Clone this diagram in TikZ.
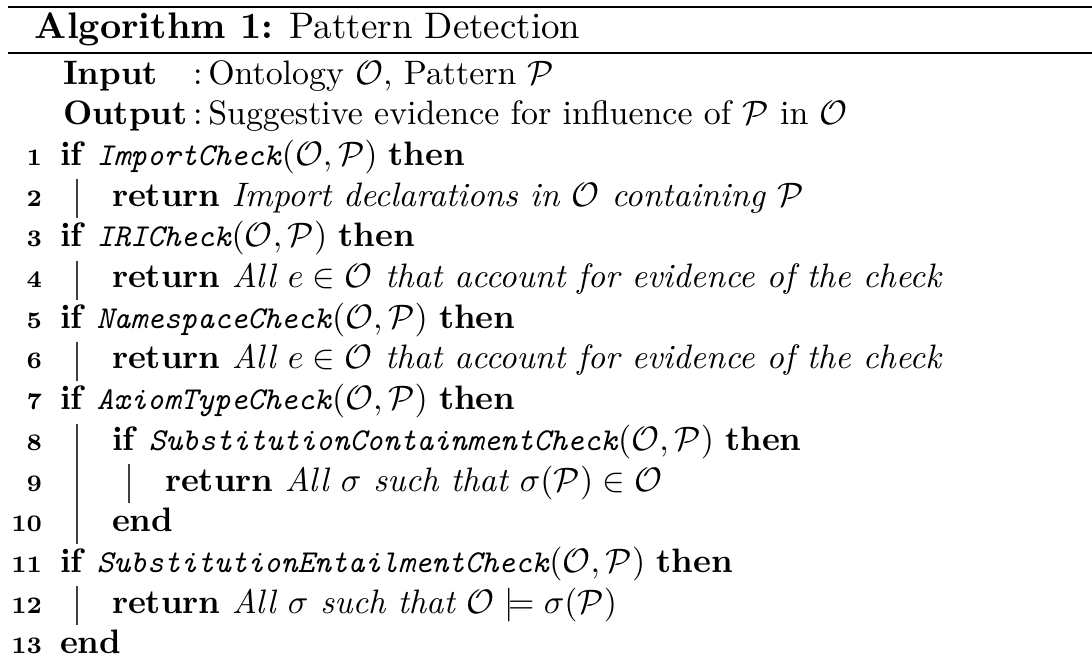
\documentclass[tikz,border=0pt]{standalone}
\usepackage{amsmath,amssymb}
\begin{document}
\begin{tikzpicture}[x=0.295pt,y=-0.295pt,
  txt/.style={anchor=base west,inner sep=0pt,outer sep=0pt,font=\normalsize},
  captxt/.style={anchor=base west,inner sep=0pt,outer sep=0pt,font=\fontsize{10.9pt}{13pt}\selectfont},
  lno/.style={anchor=base east,inner sep=0pt,outer sep=0pt,font=\scriptsize\bfseries},
  toprule/.style={line width=0.8pt},
  midrule/.style={line width=0.6pt},
  blockbar/.style={line width=0.4pt,black!75}]
\useasboundingbox (0,0) rectangle (1092,669);
\newcommand{\fn}[1]{{\fontsize{9.4pt}{12pt}\selectfont\textit{\texttt{#1}}}}
\newcommand{\Ocal}{\mathcal{O}}
\newcommand{\Pcal}{\mathcal{P}}

% caption rules
\coordinate (r1l) at (8,7);   \coordinate (r1r) at (1092,7);
\coordinate (r2l) at (8,53);  \coordinate (r2r) at (1092,53);
\draw[toprule] (r1l) -- (r1r);
\draw[midrule] (r2l) -- (r2r);

% caption
\node[captxt] (title) at (35,38) {\textbf{Algorithm 1:} Pattern Detection};

% input / output
\node[txt] (outkw) at (63,124.7) {\textbf{Output}};
\node[txt] (outcol) at (outkw.base east) {\,:\,};
\node[txt] (outtxt) at (outcol.base east) {Suggestive evidence for influence of $\Pcal$ in $\Ocal$};
\node[txt] (inkw) at (63,84) {\textbf{Input}};
\node[txt] (incol) at (outcol.base west |- inkw.base) {\,:\,};
\node[txt] (intxt) at (incol.base east) {Ontology $\Ocal$, Pattern $\Pcal$};

% line numbers
\foreach \k in {1,...,13}{
  \node[lno] (n\k) at (42,{165.4+40.7*(\k-1)}) {\k};
}

% statements
\node[txt] (s1)  at (60,165.4) {\textbf{if} \fn{ImportCheck}$(\Ocal,\Pcal)$ \textbf{then}};
\node[txt] (s2)  at (112,206.1) {\textbf{return} \textit{Import declarations in $\Ocal$ containing $\Pcal$}};
\node[txt] (s3)  at (60,246.8) {\textbf{if} \fn{IRICheck}$(\Ocal,\Pcal)$ \textbf{then}};
\node[txt] (s4)  at (112,287.5) {\textbf{return} \textit{All $e\in\Ocal$ that account for evidence of the check}};
\node[txt] (s5)  at (60,328.2) {\textbf{if} \fn{NamespaceCheck}$(\Ocal,\Pcal)$ \textbf{then}};
\node[txt] (s6)  at (112,368.9) {\textbf{return} \textit{All $e\in\Ocal$ that account for evidence of the check}};
\node[txt] (s7)  at (60,409.6) {\textbf{if} \fn{AxiomTypeCheck}$(\Ocal,\Pcal)$ \textbf{then}};
\node[txt] (s8)  at (112,450.3) {\textbf{if} \fn{SubstitutionContainmentCheck}$(\Ocal,\Pcal)$ \textbf{then}};
\node[txt] (s9)  at (165,491.0) {\textbf{return} \textit{All $\sigma$ such that $\sigma(\Pcal)\in\Ocal$}};
\node[txt] (s10) at (112,531.7) {\textbf{end}};
\node[txt] (s11) at (60,572.4) {\textbf{if} \fn{SubstitutionEntailmentCheck}$(\Ocal,\Pcal)$ \textbf{then}};
\node[txt] (s12) at (112,613.1) {\textbf{return} \textit{All $\sigma$ such that $\Ocal\models\sigma(\Pcal)$}};
\node[txt] (s13) at (60,653.8) {\textbf{end}};

% block bars
\coordinate (b1t) at (77,179.4); \coordinate (b1b) at (77,218.1);
\coordinate (b2t) at (77,260.8); \coordinate (b2b) at (77,299.5);
\coordinate (b3t) at (77,342.2); \coordinate (b3b) at (77,380.9);
\coordinate (b4t) at (77,423.6); \coordinate (b4b) at (77,543.7);
\coordinate (b5t) at (129,464.3); \coordinate (b5b) at (129,503.0);
\coordinate (b6t) at (77,586.4); \coordinate (b6b) at (77,625.1);
\foreach \b in {1,...,6}{ \draw[blockbar] (b\b t) -- (b\b b); }
\end{tikzpicture}
\end{document}
